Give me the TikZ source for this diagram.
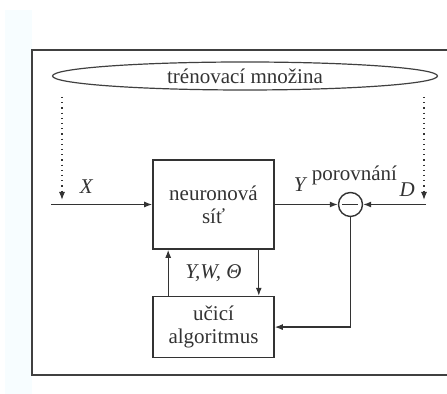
\documentclass[tikz,border=0pt]{standalone}
\usepackage{fontspec}
\setmainfont{Liberation Serif}
\usepackage{tikz}
\usetikzlibrary{
  arrows.meta,
  positioning,
  shapes.geometric,
}

\begin{document}
\begin{tikzpicture}[
  x=0.5pt, y=-0.5pt,
  >={Latex[length=4pt,width=3pt]},
  block/.style={
    draw=black!80, line width=0.8pt, minimum width=60.5pt,
    align=center, font=\fontsize{10.5}{11.5}\selectfont, text=black!80,
  },
  cmpnode/.style={
    draw=black!80, line width=0.7pt, circle, minimum size=12pt, inner sep=0pt,
  },
  sig/.style={->, line width=0.6pt, color=black!80},
  feed/.style={->, line width=0.6pt, color=black!80, dotted},
  lbl/.style={font=\fontsize{10.5}{11.5}\selectfont, text=black!80},
]

% ── page and frame ────────────────────────────────────────────────
\useasboundingbox (0,0) rectangle (447,394);
\fill[cyan!3] (5,10) rectangle (32,394);
\draw[black!75, line width=0.6pt] (447,50) -- (32,50) -- (32,375) -- (447,375);

% ── training set ──────────────────────────────────────────────────
\node[ellipse, draw=black!75, line width=0.6pt, inner sep=0pt,
      minimum width=192.5pt, minimum height=14pt, lbl] (trainset) at (245,76)
  {trénovací množina};

% ── blocks ────────────────────────────────────────────────────────
\node[block, minimum height=44.5pt] (net) at (213.5,204.5) {neuronová\\síť};
\node[block, minimum height=30.5pt, below=23pt of net] (alg) {učicí\\algoritmus};
\node[cmpnode, right=31.5pt of net,
      label={[lbl, xshift=2pt, yshift=0pt]above:porovnání}] (cmp) {};
\draw[black!80, line width=0.7pt] ([xshift=-4pt]cmp.center) -- ([xshift=4pt]cmp.center);

% ── free ends ─────────────────────────────────────────────────────
\coordinate[left=50.5pt of net] (xin);
\coordinate[right=31.5pt of cmp] (din);
\coordinate (xtop) at (62,97);
\coordinate (xbot) at (62,200);
\coordinate (dtop) at (424,97);
\coordinate (dbot) at (424,200);

% ── connections ───────────────────────────────────────────────────
\draw[feed] (xtop) -- (xbot);
\draw[feed] (dtop) -- (dbot);
\draw[sig] (xin) -- (net) node[pos=0.35, above=2pt, lbl] {\textit{X}};
\draw[sig] (net) -- (cmp) node[pos=0.41, above=3pt, lbl] {\textit{Y}};
\draw[sig] (din) -- (cmp) node[pos=0.3, above=0.5pt, lbl] {\textit{D}};
\draw[sig] (cmp.south) |- (alg.east);
\draw[sig] ([xshift=8pt]alg.north west) -- ([xshift=8pt]net.south west);
\draw[sig] ([xshift=-8pt]net.south east) -- ([xshift=-8pt]alg.north east);
\path (net.south) -- (alg.north) node[midway, lbl] {\textit{Y,W,~Θ}};

\end{tikzpicture}
\end{document}
